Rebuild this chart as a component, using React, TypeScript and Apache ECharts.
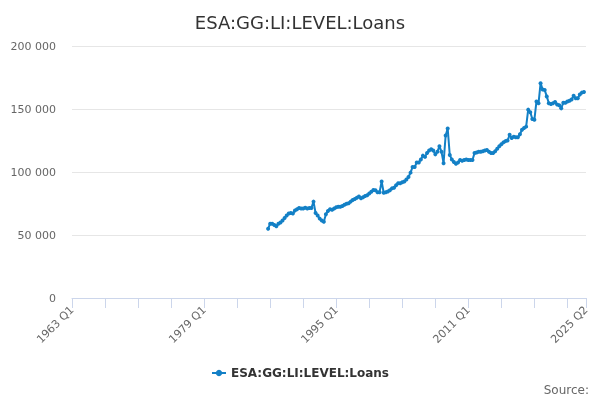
import { useEffect, useRef } from 'react'
import * as echarts from 'echarts'

const title = 'ESA:GG:LI:LEVEL:Loans'
const seriesName = 'ESA:GG:LI:LEVEL:Loans'

// quarterly categories 1963 Q1 .. 2025 Q2
const firstYear = 1963
const lastYear = 2025
const lastQuarter = 2
const categories: string[] = []
for (let y = firstYear; y <= lastYear; y++) {
  for (let q = 1; q <= 4; q++) {
    if (y === lastYear && q > lastQuarter) break
    categories.push(`${y} Q${q}`)
  }
}

// series starts at 1986 Q4 (index 95)
const startLabel = '1986 Q4'
const loans: number[] = [
  55000, 59000, 59000, 58000, 57000, 59000, 60000, 61500, 63500, 65500,
  67000, 67500, 67000, 69500, 70500, 71500, 71000, 71000, 71700, 71000,
  71500, 71500, 76500, 67500, 65500, 63000, 61500, 60500, 66500, 69000,
  70500, 70000, 71000, 72000, 72500, 72500, 73000, 74000, 74800, 75200,
  76500, 77800, 78500, 79500, 80500, 79200, 80000, 81000, 81500, 83000,
  84400, 85700, 85500, 84000, 84000, 92500, 83500, 84000, 84500, 85500,
  87000, 87500, 89500, 91000, 91000, 91800, 92500, 94000, 96000, 99500,
  104000, 104000, 107500, 107500, 110000, 113000, 112000, 115000, 117000, 118000,
  117000, 114000, 116000, 120500, 116000, 107000, 129000, 134500, 113500, 110000,
  108000, 106500, 107500, 109500, 109000, 109500, 110000, 109500, 109500, 109500,
  115000, 115500, 116000, 116000, 116500, 117000, 117500, 116000, 115000, 115000,
  116500, 118500, 120500, 122000, 123500, 124500, 125000, 129500, 127000, 128000,
  127500, 127500, 130000, 133500, 135000, 136000, 149500, 147500, 142000, 141500,
  156000, 154500, 170500, 165500, 165000, 160000, 154500, 154000, 154500, 155500,
  153500, 153000, 150500, 155000, 155000, 156000, 156500, 157500, 160500, 158500,
  158500, 161500, 163000, 163500,
]

const yMin = 0
const yMax = 200000
const yStep = 50000

const fmt = (v: number) => String(v).replace(/\B(?=(\d{3})+(?!\d))/g, ' ')

export default function App() {
  const ref = useRef<HTMLDivElement | null>(null)

  useEffect(() => {
    const host = ref.current
    if (!host) return
    const chart = echarts.init(host, undefined, { renderer: 'svg' })

    const start = categories.indexOf(startLabel)
    const data: (number | null)[] = categories.map((_, i) => {
      const k = i - start
      return k >= 0 && k < loans.length ? loans[k] : null
    })
    const last = categories.length - 1
    const font = 'DejaVu Sans'

    chart.setOption({
      animation: false,
      textStyle: { fontFamily: font },
      title: {
        text: title,
        left: 'center',
        top: 8,
        textStyle: { fontSize: 18, fontWeight: 'normal', color: '#333333', fontFamily: font },
      },
      grid: { left: 72, right: 14, top: 46, bottom: 102 },
      legend: {
        bottom: 16,
        left: 'center',
        itemWidth: 14,
        itemHeight: 8,
        itemGap: 4,
        textStyle: { fontSize: 12, fontWeight: 'bold', color: '#333333', fontFamily: font },
        data: [seriesName],
      },
      xAxis: {
        type: 'category',
        data: categories,
        boundaryGap: false,
        axisLine: { lineStyle: { color: '#ccd6eb' } },
        axisTick: {
          interval: (i: number) => i % 16 === 0 || i === last,
          length: 10,
          lineStyle: { color: '#ccd6eb' },
        },
        axisLabel: {
          interval: (i: number) => i % 64 === 0 || i === last,
          rotate: 45,
          color: '#666666',
          fontSize: 11,
          margin: 10,
          fontFamily: font,
        },
        splitLine: { show: false },
      },
      yAxis: {
        type: 'value',
        min: yMin,
        max: yMax,
        interval: yStep,
        axisLine: { show: false },
        axisTick: { show: false },
        axisLabel: { color: '#666666', fontSize: 11, margin: 16, fontFamily: font, formatter: fmt },
        splitLine: { lineStyle: { color: '#e6e6e6' } },
      },
      series: [
        {
          name: seriesName,
          type: 'line',
          data,
          showSymbol: true,
          showAllSymbol: true,
          symbol: 'circle',
          symbolSize: 4,
          connectNulls: false,
          itemStyle: { color: '#1380c6' },
          lineStyle: { width: 2, color: '#1380c6' },
        },
      ],
      graphic: [
        {
          type: 'text',
          right: 11,
          bottom: 4,
          style: { text: 'Source:', fontSize: 12, fill: '#666666', fontFamily: font },
        },
      ],
    })

    return () => chart.dispose()
  }, [])

  return <div ref={ref} style={{ position: 'fixed', left: 0, top: 0, width: 600, height: 400 }} />
}
